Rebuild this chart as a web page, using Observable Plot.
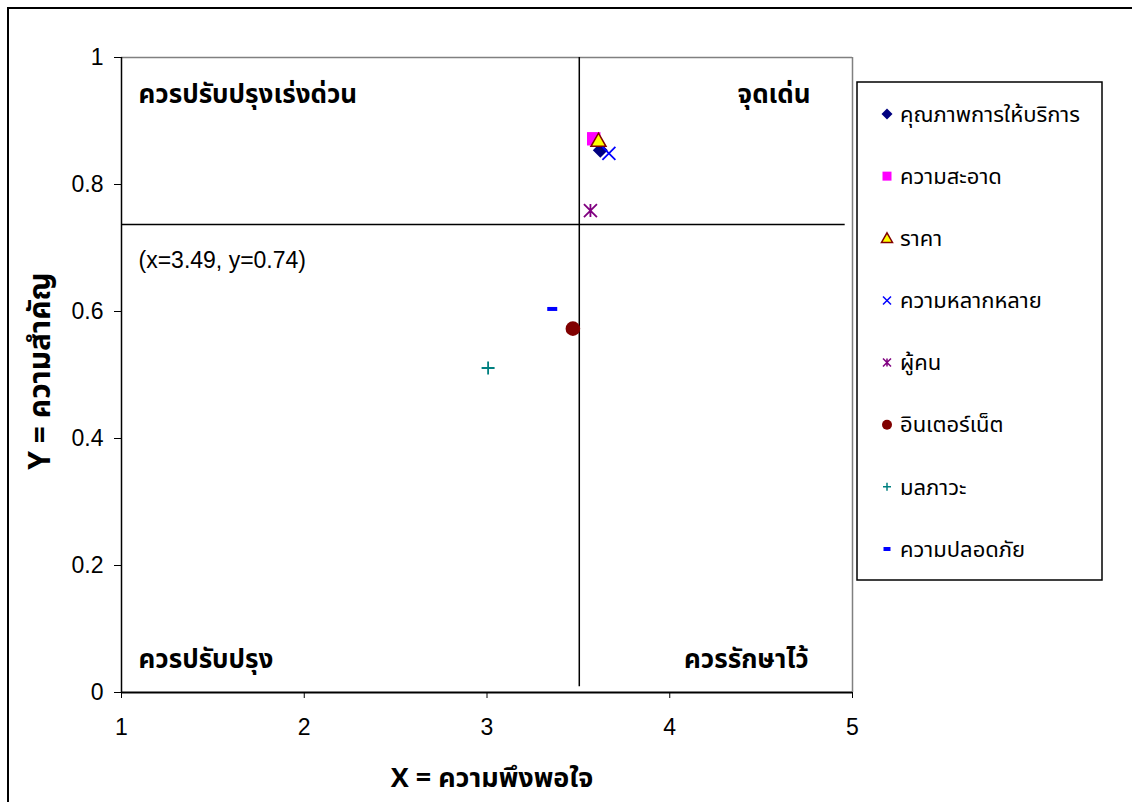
<!DOCTYPE html>
<html>
<head>
<meta charset="utf-8">
<script src="https://cdn.jsdelivr.net/npm/d3@7"></script>
<script src="https://cdn.jsdelivr.net/npm/@observablehq/plot@0.6"></script>
<style>
  html, body { margin: 0; padding: 0; background: #fff; }
  #chart { width: 1132px; height: 802px; overflow: hidden; }
</style>
</head>
<body>
<div id="chart"></div>
<script>
// ---- data ----
const series = ["คุณภาพการให้บริการ", "ความสะอาด", "ราคา", "ความหลากหลาย", "ผู้คน", "อินเตอร์เน็ต", "มลภาวะ", "ความปลอดภัย"];
const xValues = [3.62, 3.584, 3.61, 3.667, 3.566, 3.47, 3.006, 3.357];
const yValues = [0.854, 0.872, 0.869, 0.849, 0.759, 0.573, 0.511, 0.604];
const xTicks = [1, 2, 3, 4, 5];
const yTicks = [0, 0.2, 0.4, 0.6, 0.8, 1];
const quadX = 3.505;
const quadY = 0.737;
const quadNote = "(x=3.49, y=0.74)";
const quadLabels = ["ควรปรับปรุงเร่งด่วน", "จุดเด่น", "ควรปรับปรุง", "ควรรักษาไว้"];
const xTitle = "X = ความพึงพอใจ";
const yTitle = "Y = ความสำคัญ";

// ---- custom Excel-like marker shapes ----
const R = s => Math.sqrt(s / Math.PI);
const symbols = {
  diamond: {draw(c, s) { const r = R(s); c.moveTo(0, -r); c.lineTo(r, 0); c.lineTo(0, r); c.lineTo(-r, 0); c.closePath(); }},
  square: {draw(c, s) { const r = R(s); c.rect(-r, -r, 2 * r, 2 * r); }},
  triangle: {draw(c, s) { const r = R(s); c.moveTo(0, -r); c.lineTo(r, r * 0.75); c.lineTo(-r, r * 0.75); c.closePath(); }},
  times: {draw(c, s) { const r = R(s); c.moveTo(-r, -r); c.lineTo(r, r); c.moveTo(r, -r); c.lineTo(-r, r); }},
  asterisk: {draw(c, s) { const r = R(s); c.moveTo(-r, -r); c.lineTo(r, r); c.moveTo(r, -r); c.lineTo(-r, r); c.moveTo(0, -r); c.lineTo(0, r); }},
  circle: {draw(c, s) { const r = R(s); c.moveTo(r, 0); c.arc(0, 0, r, 0, 2 * Math.PI); }},
  plus: {draw(c, s) { const r = R(s); c.moveTo(-r, 0); c.lineTo(r, 0); c.moveTo(0, -r); c.lineTo(0, r); }},
  dash: {draw(c, s) { const r = R(s); c.rect(-r, -2, 2 * r, 4); }}
};
const styles = [
  {sym: "diamond", r: 7.5, lr: 5.5, fill: "#000080", stroke: "none", sw: 0},
  {sym: "square", r: 6.7, lr: 4.5, fill: "#FF00FF", stroke: "none", sw: 0},
  {sym: "triangle", r: 7.5, lr: 5.5, fill: "#FFFF00", stroke: "#800000", sw: 1.5},
  {sym: "times", r: 6.5, lr: 4, fill: "none", stroke: "#0000FF", sw: 1.8},
  {sym: "asterisk", r: 6.5, lr: 4, fill: "none", stroke: "#800080", sw: 1.8},
  {sym: "circle", r: 7.3, lr: 5, fill: "#800000", stroke: "none", sw: 0},
  {sym: "plus", r: 6.5, lr: 4, fill: "none", stroke: "#008080", sw: 1.8},
  {sym: "dash", r: 5, lr: 3.5, fill: "#0000FF", stroke: "none", sw: 0}
];

const thaiFont = "Tahoma, 'Noto Sans Thai', 'Noto Sans Thai UI', 'Noto Sans', 'DejaVu Sans', sans-serif";
const latinFont = "'Liberation Sans', Arial, sans-serif";
const idx = d3.range(series.length);

const dotMarks = idx.map(i => Plot.dot([i], {
  x: k => xValues[k], y: k => yValues[k],
  symbol: symbols[styles[i].sym], r: styles[i].r,
  fill: styles[i].fill, stroke: styles[i].stroke, strokeWidth: styles[i].sw
}));

const qlab = {fontWeight: "bold", fontSize: 26, fontFamily: thaiFont, lineAnchor: "middle"};

const chart = Plot.plot({
  width: 1132, height: 802,
  marginLeft: 121, marginRight: 280, marginTop: 57, marginBottom: 110,
  x: {domain: [1, 5]},
  y: {domain: [0, 1]},
  style: {fontFamily: latinFont, fontSize: "23px", color: "black", background: "white", overflow: "visible"},
  marks: [
    Plot.ruleY([1], {x1: 1, x2: 5, stroke: "#808080", strokeWidth: 1.5}),
    Plot.ruleX([5], {y1: 0, y2: 1, stroke: "#808080", strokeWidth: 1.5}),
    Plot.ruleX([quadX], {y1: 0.009, y2: 1, stroke: "black", strokeWidth: 1.5}),
    Plot.ruleY([quadY], {x1: 1, x2: 4.96, stroke: "black", strokeWidth: 1.5}),
    Plot.ruleX([1], {y1: 0, y2: 1, stroke: "black", strokeWidth: 1.5}),
    Plot.ruleY([0], {x1: 1, x2: 5, stroke: "black", strokeWidth: 2}),
    Plot.axisX({ticks: xTicks, tickSize: 6, tickPadding: 20, tickFormat: d => String(d), label: null, stroke: "black"}),
    Plot.axisY({ticks: yTicks, tickSize: 7, tickPadding: 11, tickFormat: d => d3.format("~g")(d), label: null, stroke: "black"}),
    Plot.text([quadLabels[0]], {frameAnchor: "top-left", dx: 17, dy: 37, textAnchor: "start", ...qlab}),
    Plot.text([quadLabels[1]], {frameAnchor: "top-right", dx: -42, dy: 37, textAnchor: "end", ...qlab}),
    Plot.text([quadLabels[2]], {frameAnchor: "bottom-left", dx: 17, dy: -33, textAnchor: "start", ...qlab}),
    Plot.text([quadLabels[3]], {frameAnchor: "bottom-right", dx: -44, dy: -33, textAnchor: "end", ...qlab}),
    Plot.text([quadNote], {x: 1, y: quadY, dx: 17, dy: 36, textAnchor: "start", lineAnchor: "middle", fontSize: 23, fontFamily: latinFont}),
    Plot.text([xTitle], {frameAnchor: "bottom", dx: 5, dy: 86, textAnchor: "middle", lineAnchor: "middle", fontWeight: "bold", fontSize: 27, fontFamily: thaiFont}),
    Plot.text([yTitle], {frameAnchor: "left", dx: -81, dy: -4, rotate: -90, textAnchor: "middle", lineAnchor: "middle", fontWeight: "bold", fontSize: 30, fontFamily: thaiFont}),
    ...dotMarks
  ]
});

document.getElementById("chart").appendChild(chart);

// ---- tick label font, outer chart frame and legend ----
const svg = d3.select(chart);
svg.selectAll("text")
  .filter(function() { return /^[0-9.]+$/.test(this.textContent.trim()); })
  .style("font-size", "23px").style("font-family", latinFont);

svg.append("path").attr("d", "M8,802V8H1132").attr("fill", "none").attr("stroke", "black").attr("stroke-width", 2);

const lg = svg.append("g");
lg.append("rect").attr("x", 857).attr("y", 82).attr("width", 245).attr("height", 498)
  .attr("fill", "white").attr("stroke", "black").attr("stroke-width", 1.5);
const legendY = d3.scaleLinear().domain([0, series.length - 1]).range([114, 549]);
idx.forEach(i => {
  const st = styles[i];
  const y = legendY(i);
  lg.append("path")
    .attr("transform", `translate(887,${y})`)
    .attr("d", d3.symbol().type(symbols[st.sym]).size(st.lr * st.lr * Math.PI)())
    .attr("fill", st.fill).attr("stroke", st.stroke).attr("stroke-width", st.sw ? Math.min(st.sw, 1.5) : null);
  lg.append("text").attr("x", 900).attr("y", y).attr("dy", "0.35em")
    .attr("text-anchor", "start")
    .attr("font-family", thaiFont).attr("font-size", 22).attr("fill", "black")
    .text(series[i]);
});
</script>
</body>
</html>
